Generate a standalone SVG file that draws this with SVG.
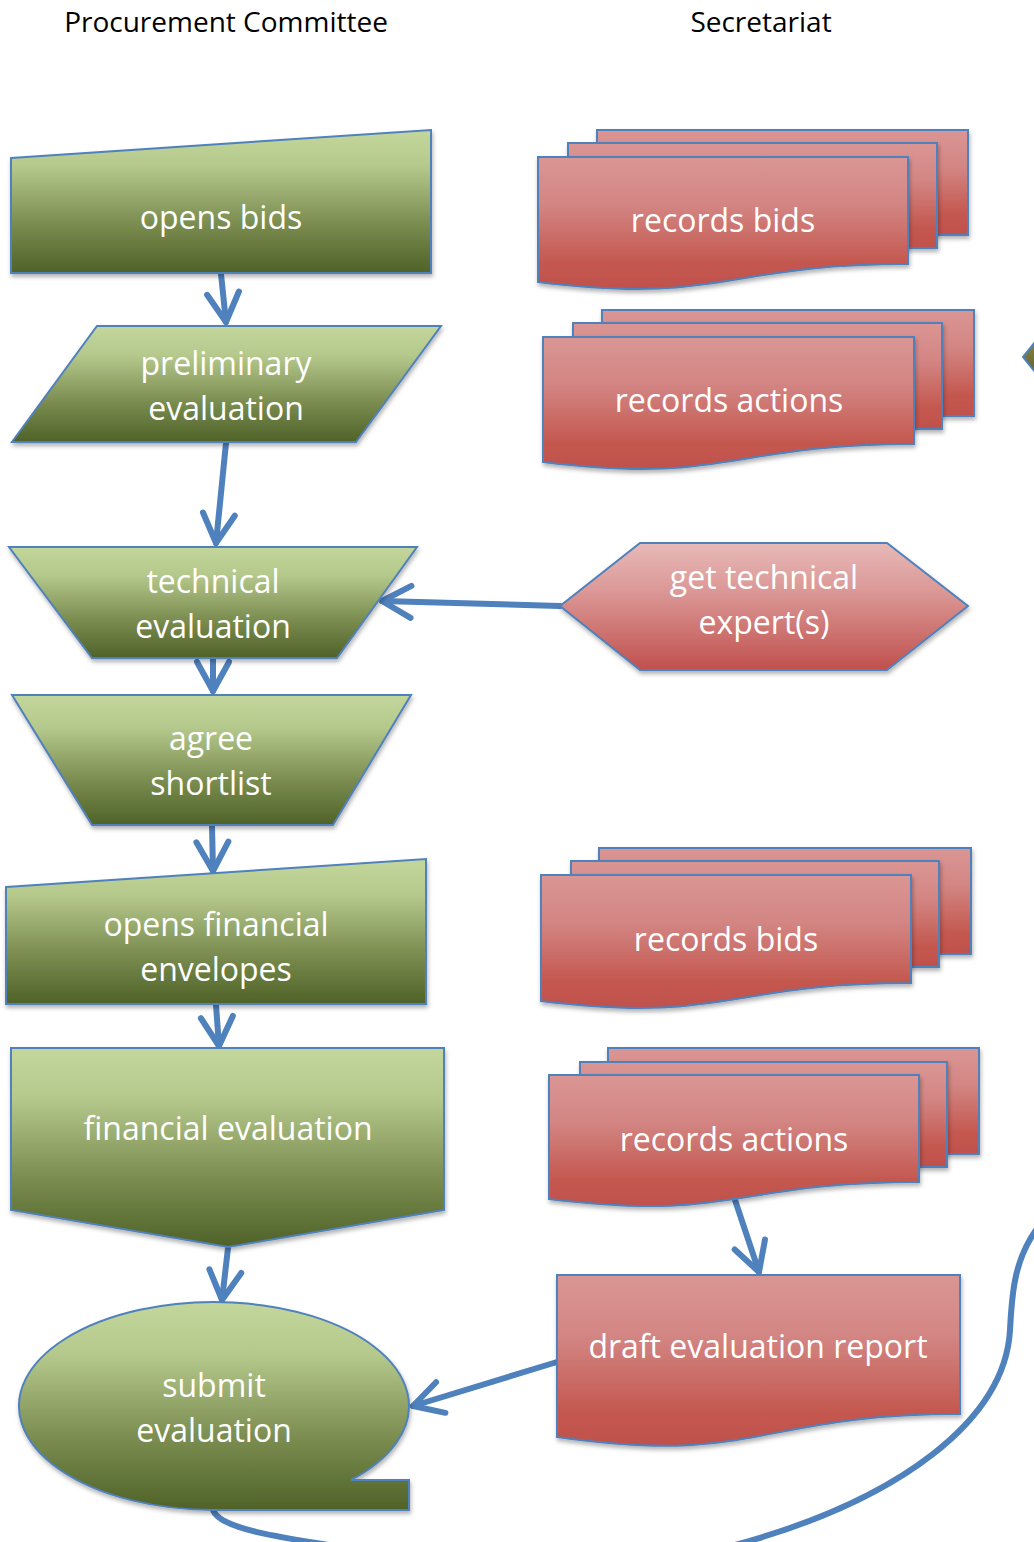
<svg xmlns="http://www.w3.org/2000/svg" width="1034" height="1542" viewBox="0 0 1034 1542">
<defs>
<linearGradient id="gGreen" x1="0" y1="0" x2="0" y2="1">
<stop offset="0" stop-color="#c3d69b"/>
<stop offset="0.25" stop-color="#b6c98d"/>
<stop offset="0.65" stop-color="#7b8d50"/>
<stop offset="1" stop-color="#4f6228"/>
</linearGradient>
<linearGradient id="gRed" x1="0" y1="0" x2="0" y2="1">
<stop offset="0" stop-color="#da9694"/>
<stop offset="0.35" stop-color="#d38684"/>
<stop offset="0.8" stop-color="#c4584f"/>
<stop offset="1" stop-color="#c0504d"/>
</linearGradient>
<linearGradient id="gPink" x1="0" y1="0" x2="0" y2="1">
<stop offset="0" stop-color="#e7b9b8"/>
<stop offset="0.4" stop-color="#da9694"/>
<stop offset="1" stop-color="#c0504d"/>
</linearGradient>
<linearGradient id="gOlive" x1="0" y1="0" x2="0" y2="1">
<stop offset="0" stop-color="#8a8a4a"/>
<stop offset="1" stop-color="#5e5e2c"/>
</linearGradient>
<filter id="sh" x="-10%" y="-10%" width="120%" height="130%">
<feDropShadow dx="1" dy="3" stdDeviation="2" flood-color="#000" flood-opacity="0.3"/>
</filter>
<marker id="ah" markerUnits="userSpaceOnUse" markerWidth="60" markerHeight="60" viewBox="-40 -30 50 60" refX="0" refY="0" orient="auto" overflow="visible">
<path d="M-29,-16 L0,0 L-29,16" fill="none" stroke="#4f81bd" stroke-width="6" stroke-linecap="round" stroke-linejoin="round"/>
</marker>
<style>
.hdr{font-family:"Open Sans","Liberation Sans",sans-serif;font-size:28px;fill:#000;text-anchor:middle}
.lbl{font-family:"Open Sans","Liberation Sans",sans-serif;font-size:32px;fill:#fff;text-anchor:middle}
.green{fill:url(#gGreen);stroke:#4f81bd;stroke-width:2;filter:url(#sh)}
.red{fill:url(#gRed);stroke:#4f81bd;stroke-width:2;filter:url(#sh)}
.pink{fill:url(#gPink);stroke:#4f81bd;stroke-width:2;filter:url(#sh)}
.con{fill:none;stroke:#4f81bd;stroke-width:6;stroke-linecap:round}
.arr{marker-end:url(#ah)}
</style>
</defs>
<rect width="1034" height="1542" fill="#fff"/>

<g id="headers">
<text class="hdr" x="226" y="32">Procurement Committee</text>
<text class="hdr" x="761" y="32">Secretariat</text>
</g>

<g id="offscreen-node">
<polygon points="1023,357 1040,336 1040,378" fill="url(#gOlive)" stroke="#4f81bd" stroke-width="2"/>
</g>

<g id="connectors">
<path class="con arr" d="M221,274 L226,322"/>
<path class="con arr" d="M226,443 L216,543"/>
<path class="con arr" d="M213,659 L213,691"/>
<path class="con arr" d="M212,826 L213,871"/>
<path class="con arr" d="M216,1005 L219,1046"/>
<path class="con arr" d="M228,1248 L222,1300"/>
<path class="con arr" d="M560,606 L382,601"/>
<path class="con arr" d="M735,1200 L759,1272"/>
<path class="con arr" d="M557,1362 L413,1406"/>
<path class="con" d="M213,1510 C220,1532 300,1540 400,1556 C530,1575 640,1570 735,1545 C900,1500 1005,1420 1010,1330 C1012,1290 1015,1260 1036,1230"/>
</g>

<g id="opens-bids">
<polygon class="green" points="11,158 431,130 431,273 11,273"/>
<text class="lbl" x="221" y="229">opens bids</text>
</g>

<g id="preliminary-evaluation">
<polygon class="green" points="97,326 441,326 356,442 12,442"/>
<text class="lbl" x="226" y="375">preliminary</text>
<text class="lbl" x="226" y="420">evaluation</text>
</g>

<g id="technical-evaluation">
<polygon class="green" points="9,547 417,547 337,658 92,658"/>
<text class="lbl" x="213" y="593">technical</text>
<text class="lbl" x="213" y="638">evaluation</text>
</g>

<g id="agree-shortlist">
<polygon class="green" points="12,695 411,695 333,825 92,825"/>
<text class="lbl" x="211" y="750">agree</text>
<text class="lbl" x="211" y="795">shortlist</text>
</g>

<g id="opens-financial-envelopes">
<polygon class="green" points="6,887 426,859 426,1004 6,1004"/>
<text class="lbl" x="216" y="936">opens financial</text>
<text class="lbl" x="216" y="981">envelopes</text>
</g>

<g id="financial-evaluation">
<polygon class="green" points="11,1048 444,1048 444,1210 228,1247 11,1210"/>
<text class="lbl" x="228" y="1140">financial evaluation</text>
</g>

<g id="submit-evaluation">
<path class="green" d="M351,1480 A195,104 0 1,0 214,1510 L409,1510 L409,1480 Z"/>
<text class="lbl" x="214" y="1397">submit</text>
<text class="lbl" x="214" y="1442">evaluation</text>
</g>

<g id="records-bids-1">
<rect class="red" x="597" y="130" width="371" height="105"/>
<rect class="red" x="568" y="143" width="369" height="105"/>
<path class="red" d="M538,157 H908 V264 C723,264 723,305 538,282 Z"/>
<text class="lbl" x="723" y="232">records bids</text>
</g>

<g id="records-actions-1">
<rect class="red" x="602" y="310" width="372" height="106"/>
<rect class="red" x="573" y="323" width="369" height="106"/>
<path class="red" d="M543,337 H914 V444 C728,444 728,485 543,462 Z"/>
<text class="lbl" x="729" y="412">records actions</text>
</g>

<g id="get-technical-experts">
<polygon class="pink" points="560,606 640,543 887,543 968,606 887,670 640,670"/>
<text class="lbl" x="764" y="589">get technical</text>
<text class="lbl" x="764" y="634">expert(s)</text>
</g>

<g id="records-bids-2">
<rect class="red" x="599" y="848" width="372" height="106"/>
<rect class="red" x="571" y="861" width="368" height="106"/>
<path class="red" d="M541,875 H911 V983 C726,983 726,1024 541,1001 Z"/>
<text class="lbl" x="726" y="951">records bids</text>
</g>

<g id="records-actions-2">
<rect class="red" x="608" y="1048" width="371" height="106"/>
<rect class="red" x="580" y="1062" width="367" height="105"/>
<path class="red" d="M549,1075 H919 V1182 C734,1182 734,1222 549,1199 Z"/>
<text class="lbl" x="734" y="1151">records actions</text>
</g>

<g id="draft-evaluation-report">
<path class="red" d="M557,1275 H960 V1414 C758,1414 758,1466 557,1437 Z"/>
<text class="lbl" x="758" y="1358">draft evaluation report</text>
</g>
</svg>
